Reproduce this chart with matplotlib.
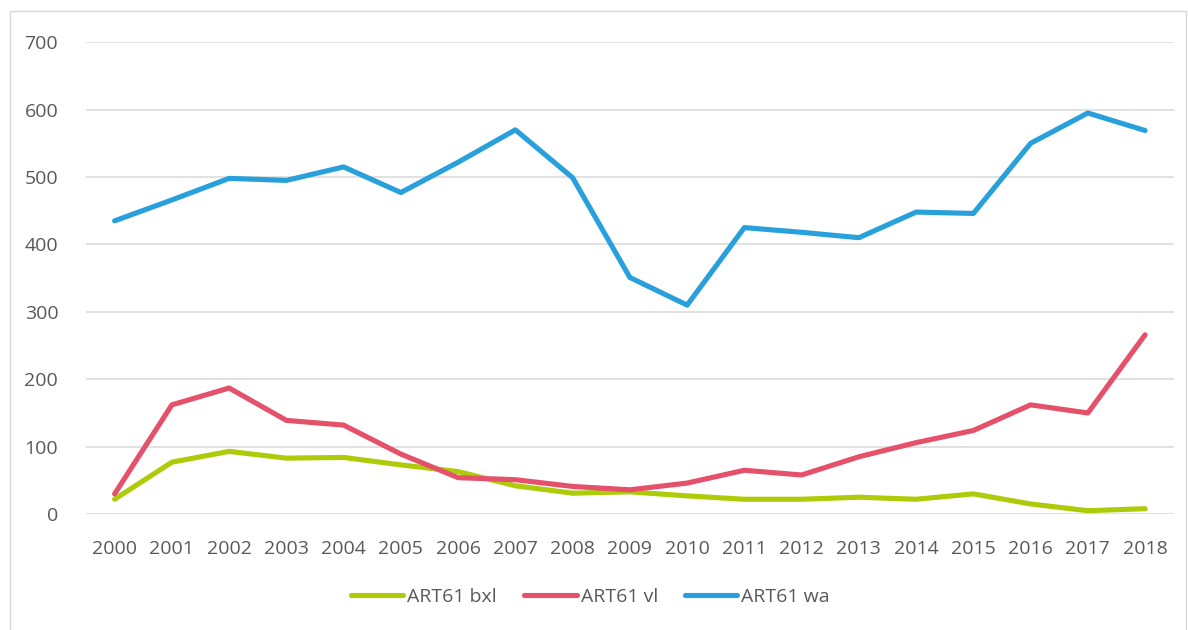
import matplotlib
matplotlib.use("Agg")
import matplotlib.pyplot as plt
from matplotlib.patches import Rectangle

years = list(range(2000, 2019))
art61_bxl = [22, 77, 93, 83, 84, 73, 63, 42, 31, 33, 27, 22, 22, 25, 22, 30, 15, 5, 8]
art61_vl = [30, 162, 187, 139, 132, 89, 54, 51, 41, 36, 46, 65, 58, 85, 106, 124, 162, 150, 266]
art61_wa = [435, 466, 498, 495, 515, 477, 522, 570, 499, 351, 310, 425, 418, 410, 448, 446, 550, 595, 569]
series_names = ["ART61 bxl", "ART61 vl", "ART61 wa"]
colors = ["#AECB0A", "#E5516A", "#28A0DB"]
yticks = [0, 100, 200, 300, 400, 500, 600, 700]

plt.rcParams['font.family'] = ['Open Sans', 'DejaVu Sans']

fig = plt.figure(figsize=(11.88, 6.30), dpi=100)
ax = fig.add_axes([0.0724, 0.184, 0.9156, 0.749])

for vals, name, c in zip([art61_bxl, art61_vl, art61_wa], series_names, colors):
    ax.plot(years, vals, color=c, linewidth=3.7, label=name,
            solid_capstyle='round', solid_joinstyle='round')

ax.set_xlim(years[0] - 0.5, years[-1] + 0.5)
ax.set_ylim(0, 700)
ax.set_yticks(yticks)
ax.set_xticks(years)
ax.set_xticklabels([str(y) for y in years])
ax.grid(axis='y', color='#D9D9D9', linewidth=1.1)
ax.set_axisbelow(True)
for s in ax.spines.values():
    s.set_visible(False)
ax.tick_params(axis='both', length=0, labelsize=14, labelcolor='#595959')
ax.tick_params(axis='y', pad=20)
ax.tick_params(axis='x', pad=19)

leg = fig.legend(loc='center', bbox_to_anchor=(0.497, 0.052), ncol=3, frameon=False,
                 fontsize=14, handlelength=2.7, handletextpad=0.2, columnspacing=1.4)
for t in leg.get_texts():
    t.set_color('#595959')

fig.patches.append(Rectangle((0.0085, -0.01), 0.99, 0.992, transform=fig.transFigure,
                             fill=False, edgecolor='#D9D9D9', linewidth=1.0))

fig.savefig('out.png', dpi=100)
